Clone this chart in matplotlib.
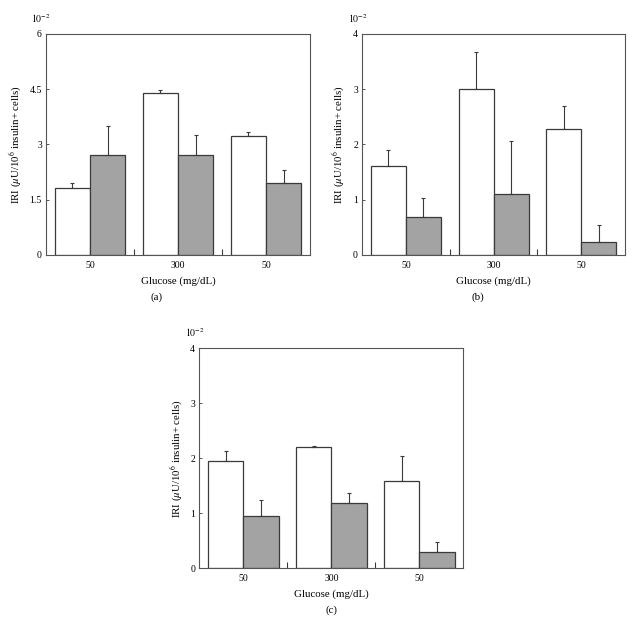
import matplotlib
matplotlib.use("Agg")
import matplotlib.pyplot as plt
import numpy as np

plt.rcParams["font.family"] = ["Liberation Serif", "DejaVu Serif"]
plt.rcParams["mathtext.fontset"] = "stix"

categories = ["50", "300", "50"]

a_white = [1.83, 4.39, 3.22]
a_white_err = [0.12, 0.09, 0.11]
a_gray = [2.71, 2.71, 1.95]
a_gray_err = [0.79, 0.55, 0.36]
a_ticks = [0, 1.5, 3, 4.5, 6]
a_ticklabels = ["0", "1.5", "3", "4.5", "6"]

b_white = [1.61, 3.00, 2.28]
b_white_err = [0.29, 0.68, 0.42]
b_gray = [0.69, 1.11, 0.235]
b_gray_err = [0.34, 0.96, 0.31]
b_ticks = [0, 1, 2, 3, 4]
b_ticklabels = ["0", "1", "2", "3", "4"]

c_white = [1.945, 2.20, 1.59]
c_white_err = [0.19, 0.02, 0.45]
c_gray = [0.94, 1.19, 0.30]
c_gray_err = [0.30, 0.17, 0.18]
c_ticks = [0, 1, 2, 3, 4]
c_ticklabels = ["0", "1", "2", "3", "4"]

EDGE = "#3a3a3a"
GRAY = "#a3a3a3"
FS = 7
LFS = 7.8


def draw_panel(ax, white, white_err, gray, gray_err, ticks, ticklabels, letter, letter_x):
    x = np.arange(len(categories))
    w = 0.4
    for vals, errs, off, fc in ((white, white_err, -w / 2, "white"), (gray, gray_err, w / 2, GRAY)):
        ax.bar(x + off, vals, width=w, color=fc, edgecolor=EDGE, linewidth=0.9, zorder=2)
        ax.errorbar(x + off, vals, yerr=[np.zeros(len(errs)), errs], fmt="none",
                    ecolor=EDGE, elinewidth=0.8, capsize=1.5, capthick=0.8, zorder=3)
    ax.set_xlim(-0.5, 2.5)
    ax.set_ylim(ticks[0], ticks[-1])
    ax.set_xticks(x)
    ax.set_xticklabels(categories, fontsize=FS)
    ax.set_xticks([0.5, 1.5], minor=True)
    ax.tick_params(axis="x", which="major", length=0, pad=4)
    ax.tick_params(axis="x", which="minor", direction="in", length=4, width=0.8, color=EDGE)
    ax.set_yticks(ticks)
    ax.set_yticklabels(ticklabels, fontsize=FS)
    ax.tick_params(axis="y", direction="in", length=2, width=0.6, color=EDGE, pad=3)
    for s in ax.spines.values():
        s.set_color("#555555")
        s.set_linewidth(0.8)
    ax.set_xlabel("Glucose (mg/dL)", fontsize=LFS, labelpad=5)
    ax.set_ylabel(r"IRI ($\mu$U/10$^6$ insulin+ cells)", fontsize=LFS, labelpad=4)
    ax.text(-0.055, 1.04, r"$10^{-2}$", transform=ax.transAxes, fontsize=FS, ha="left", va="bottom")
    ax.text(letter_x, -0.17, letter, transform=ax.transAxes, fontsize=LFS, ha="center", va="top")


fig = plt.figure(figsize=(6.41, 6.28), dpi=100)
ax_a = fig.add_axes([0.0718, 0.594, 0.412, 0.352])
ax_b = fig.add_axes([0.565, 0.594, 0.410, 0.352])
ax_c = fig.add_axes([0.311, 0.0955, 0.412, 0.350])

draw_panel(ax_a, a_white, a_white_err, a_gray, a_gray_err, a_ticks, a_ticklabels, "(a)", 0.42)
draw_panel(ax_b, b_white, b_white_err, b_gray, b_gray_err, b_ticks, b_ticklabels, "(b)", 0.44)
draw_panel(ax_c, c_white, c_white_err, c_gray, c_gray_err, c_ticks, c_ticklabels, "(c)", 0.5)

fig.savefig("out.png", dpi=100)
